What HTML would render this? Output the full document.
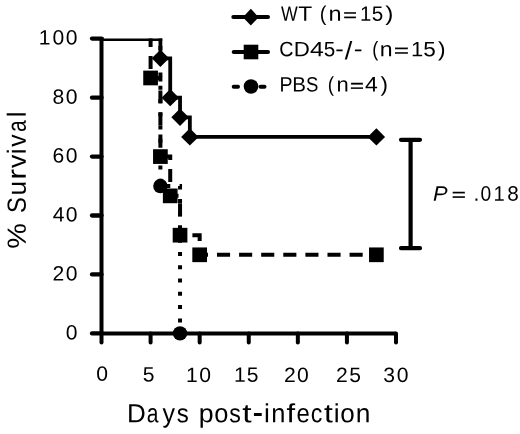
<!DOCTYPE html>
<html><head><meta charset="utf-8"><style>
html,body{margin:0;padding:0;background:#fff;width:520px;height:434px;overflow:hidden}
svg{display:block;will-change:transform}
text{font-family:"Liberation Sans",sans-serif;fill:#000}
</style></head><body>
<svg width="520" height="434" viewBox="0 0 520 434">
<path d="M101.5,37 V333.4 H396.01" fill="none" stroke="#000" stroke-width="4" stroke-linejoin="round"/>
<line x1="92" y1="333.4" x2="101.5" y2="333.4" stroke="#000" stroke-width="4.3" stroke-linecap="round"/>
<line x1="92" y1="274.46" x2="101.5" y2="274.46" stroke="#000" stroke-width="4.3" stroke-linecap="round"/>
<line x1="92" y1="215.52" x2="101.5" y2="215.52" stroke="#000" stroke-width="4.3" stroke-linecap="round"/>
<line x1="92" y1="156.58" x2="101.5" y2="156.58" stroke="#000" stroke-width="4.3" stroke-linecap="round"/>
<line x1="92" y1="97.64" x2="101.5" y2="97.64" stroke="#000" stroke-width="4.3" stroke-linecap="round"/>
<line x1="92" y1="38.6" x2="101.5" y2="38.6" stroke="#000" stroke-width="4.3" stroke-linecap="round"/>
<line x1="101.5" y1="333.4" x2="101.5" y2="342.6" stroke="#000" stroke-width="4" stroke-linecap="round"/>
<line x1="150.59" y1="333.4" x2="150.59" y2="342.6" stroke="#000" stroke-width="4" stroke-linecap="round"/>
<line x1="199.67" y1="333.4" x2="199.67" y2="342.6" stroke="#000" stroke-width="4" stroke-linecap="round"/>
<line x1="248.75" y1="333.4" x2="248.75" y2="342.6" stroke="#000" stroke-width="4" stroke-linecap="round"/>
<line x1="297.84" y1="333.4" x2="297.84" y2="342.6" stroke="#000" stroke-width="4" stroke-linecap="round"/>
<line x1="346.93" y1="333.4" x2="346.93" y2="342.6" stroke="#000" stroke-width="4" stroke-linecap="round"/>
<line x1="396.01" y1="333.4" x2="396.01" y2="342.6" stroke="#000" stroke-width="4" stroke-linecap="round"/>
<line x1="101.5" y1="39.75" x2="162.3" y2="39.75" stroke="#000" stroke-width="2.6"/>
<path d="M160.4,38.45 L160.4,58.36 L170.22,58.36 L170.22,97.64 L180.04,97.64 L180.04,117.3 L189.85,117.3 L189.85,136.92 L376.38,136.92" fill="none" stroke="#000" stroke-width="3.8"/>
<path d="M376.38,254.8 L199.67,254.8 L199.67,235.18 L180.04,235.18 L180.04,195.86 L170.22,195.86 L170.22,156.58 L160.4,156.58 L160.4,77.98 L150.59,77.98 L150.59,38.45" fill="none" stroke="#000" stroke-width="4" stroke-dasharray="13.1 9" stroke-dashoffset="8.4"/>
<path d="M180.04,333.4 L180.04,186.05 L160.4,186.05 L160.4,38.45" fill="none" stroke="#000" stroke-width="4" stroke-dasharray="4 9.28" stroke-dashoffset="2.28"/>
<rect x="143.24" y="70.63" width="14.7" height="14.7"/>
<rect x="153.05" y="149.23" width="14.7" height="14.7"/>
<rect x="162.87" y="188.51" width="14.7" height="14.7"/>
<rect x="172.69" y="227.83" width="14.7" height="14.7"/>
<rect x="192.32" y="247.45" width="14.7" height="14.7"/>
<rect x="369.03" y="247.45" width="14.7" height="14.7"/>
<circle cx="160.4" cy="186.05" r="7.2"/>
<circle cx="180.04" cy="333.4" r="7.2"/>
<path d="M160.4,49.66 L169.1,58.36 L160.4,67.06 L151.7,58.36 Z"/>
<path d="M170.22,88.94 L178.92,97.64 L170.22,106.34 L161.52,97.64 Z"/>
<path d="M180.04,108.6 L188.74,117.3 L180.04,126 L171.34,117.3 Z"/>
<path d="M189.85,128.22 L198.55,136.92 L189.85,145.62 L181.15,136.92 Z"/>
<path d="M376.38,128.22 L385.08,136.92 L376.38,145.62 L367.68,136.92 Z"/>
<path d="M401,139.8 H420 M410.6,139.8 V248.2 M401,248.2 H420" fill="none" stroke="#000" stroke-width="4.2" stroke-linecap="round"/>
<line x1="233.3" y1="16.9" x2="268" y2="16.9" stroke="#000" stroke-width="4" stroke-linecap="round"/>
<path d="M250.8,8.8 L258.7,17.2 L250.8,25.6 L242.9,17.2 Z"/>
<line x1="233.7" y1="51.9" x2="268" y2="51.9" stroke="#000" stroke-width="4" stroke-linecap="round"/>
<rect x="243.7" y="44.7" width="14.6" height="14.6"/>
<line x1="233.7" y1="86.8" x2="238" y2="86.8" stroke="#000" stroke-width="4" stroke-linecap="round"/>
<line x1="260.5" y1="86.8" x2="264.5" y2="86.8" stroke="#000" stroke-width="4" stroke-linecap="round"/>
<circle cx="251" cy="86.5" r="7.3"/>
<text transform="translate(45,44.58) rotate(0.05) scale(1.020,1.000)" x="-6.04" font-size="20.7">1</text>
<text transform="translate(58.45,44.58) rotate(0.05) scale(1.020,1.000)" x="-5.76" font-size="20.7">0</text>
<text transform="translate(71.6,44.58) rotate(0.05) scale(1.020,1.000)" x="-5.76" font-size="20.7">0</text>
<text transform="translate(58.45,103.67) rotate(0.05) scale(1.020,1.000)" x="-5.76" font-size="20.7">8</text>
<text transform="translate(71.6,103.67) rotate(0.05) scale(1.020,1.000)" x="-5.76" font-size="20.7">0</text>
<text transform="translate(58.45,162.61) rotate(0.05) scale(1.020,1.000)" x="-5.83" font-size="20.7">6</text>
<text transform="translate(71.6,162.61) rotate(0.05) scale(1.020,1.000)" x="-5.76" font-size="20.7">0</text>
<text transform="translate(58.45,221.55) rotate(0.05) scale(1.020,1.000)" x="-5.69" font-size="20.7">4</text>
<text transform="translate(71.6,221.55) rotate(0.05) scale(1.020,1.000)" x="-5.76" font-size="20.7">0</text>
<text transform="translate(58.45,280.49) rotate(0.05) scale(1.020,1.000)" x="-5.76" font-size="20.7">2</text>
<text transform="translate(71.6,280.49) rotate(0.05) scale(1.020,1.000)" x="-5.76" font-size="20.7">0</text>
<text transform="translate(71.6,339.43) rotate(0.05) scale(1.020,1.000)" x="-5.76" font-size="20.7">0</text>
<text transform="translate(102.1,380.83) rotate(0.05) scale(1.020,1.000)" x="-5.76" font-size="20.7">0</text>
<text transform="translate(148.5,381.52) rotate(0.05) scale(1.020,1.000)" x="-5.74" font-size="20.7">5</text>
<text transform="translate(192.2,381.98) rotate(0.05) scale(1.020,1.000)" x="-6.04" font-size="20.7">1</text>
<text transform="translate(205.1,381.98) rotate(0.05) scale(1.020,1.000)" x="-5.76" font-size="20.7">0</text>
<text transform="translate(240.1,381.87) rotate(0.05) scale(1.020,1.000)" x="-6.04" font-size="20.7">1</text>
<text transform="translate(252.5,381.87) rotate(0.05) scale(1.020,1.000)" x="-5.74" font-size="20.7">5</text>
<text transform="translate(289.8,382.08) rotate(0.05) scale(1.020,1.000)" x="-5.76" font-size="20.7">2</text>
<text transform="translate(302.75,382.08) rotate(0.05) scale(1.020,1.000)" x="-5.76" font-size="20.7">0</text>
<text transform="translate(341.8,381.98) rotate(0.05) scale(1.020,1.000)" x="-5.76" font-size="20.7">2</text>
<text transform="translate(355.05,381.98) rotate(0.05) scale(1.020,1.000)" x="-5.74" font-size="20.7">5</text>
<text transform="translate(389.05,382.03) rotate(0.05) scale(1.020,1.000)" x="-5.7" font-size="20.7">3</text>
<text transform="translate(402.5,382.03) rotate(0.05) scale(1.020,1.000)" x="-5.76" font-size="20.7">0</text>
<text transform="translate(289.35,20.75) rotate(0.05) scale(0.849,1.000)" x="-9.87" font-size="20.9">W</text>
<text transform="translate(305.1,20.75) rotate(0.05) scale(1.092,1.000)" x="-6.38" font-size="20.9">T</text>
<text transform="translate(323.7,20.75) rotate(0.05) scale(0.956,1.000)" x="-4.07" font-size="20.9">(</text>
<text transform="translate(334.95,20.75) rotate(0.05) scale(1.126,1.000)" x="-5.83" font-size="20.9">n</text>
<text transform="translate(350.05,20.92) rotate(0.05) scale(1.123,0.861)" x="-6.1" font-size="20.9" stroke="#000" stroke-width="0.4">=</text>
<text transform="translate(365.85,20.75) rotate(0.05) scale(0.977,1.000)" x="-6.1" font-size="20.9">1</text>
<text transform="translate(377.45,20.75) rotate(0.05) scale(0.989,1.000)" x="-5.79" font-size="20.9">5</text>
<text transform="translate(388.6,20.75) rotate(0.05) scale(1.173,1.000)" x="-2.89" font-size="20.9">)</text>
<text transform="translate(286.4,56.3) rotate(0.05) scale(0.944,1.000)" x="-7.68" font-size="20.9">C</text>
<text transform="translate(302.25,56.3) rotate(0.05) scale(1.066,1.000)" x="-7.9" font-size="20.9">D</text>
<text transform="translate(316.7,56.3) rotate(0.05) scale(1.187,1.000)" x="-5.75" font-size="20.9">4</text>
<text transform="translate(329.45,56.3) rotate(0.05) scale(0.989,1.000)" x="-5.79" font-size="20.9">5</text>
<text transform="translate(339.35,56.62) rotate(0.05) scale(1.215,1.102)" x="-3.48" font-size="20.9">-</text>
<text transform="translate(348.45,59.35) rotate(0.05) scale(1.300,1.202)" x="-2.9" font-size="20.9">/</text>
<text transform="translate(358.2,56.62) rotate(0.05) scale(1.274,1.102)" x="-3.48" font-size="20.9">-</text>
<text transform="translate(375.85,56.3) rotate(0.05) scale(0.866,1.000)" x="-4.07" font-size="20.9">(</text>
<text transform="translate(386.15,56.3) rotate(0.05) scale(1.104,1.000)" x="-5.83" font-size="20.9">n</text>
<text transform="translate(401.55,56.47) rotate(0.05) scale(1.221,0.861)" x="-6.1" font-size="20.9" stroke="#000" stroke-width="0.4">=</text>
<text transform="translate(417.4,56.3) rotate(0.05) scale(1.054,1.000)" x="-6.1" font-size="20.9">1</text>
<text transform="translate(429.5,56.3) rotate(0.05) scale(1.080,1.000)" x="-5.79" font-size="20.9">5</text>
<text transform="translate(441.05,56.3) rotate(0.05) scale(1.083,1.000)" x="-2.89" font-size="20.9">)</text>
<text transform="translate(286.25,91.6) rotate(0.05) scale(0.935,1.000)" x="-7.28" font-size="20.9">P</text>
<text transform="translate(299.5,91.6) rotate(0.05) scale(0.980,1.000)" x="-7.28" font-size="20.9">B</text>
<text transform="translate(312.3,91.6) rotate(0.05) scale(0.889,1.000)" x="-6.96" font-size="20.9">S</text>
<text transform="translate(331.35,91.6) rotate(0.05) scale(0.902,1.000)" x="-4.07" font-size="20.9">(</text>
<text transform="translate(342.57,91.6) rotate(0.05) scale(1.053,1.000)" x="-5.83" font-size="20.9">n</text>
<text transform="translate(357.05,91.77) rotate(0.05) scale(1.142,0.861)" x="-6.1" font-size="20.9" stroke="#000" stroke-width="0.4">=</text>
<text transform="translate(371.45,91.6) rotate(0.05) scale(1.101,1.000)" x="-5.75" font-size="20.9">4</text>
<text transform="translate(383.62,91.6) rotate(0.05) scale(1.074,1.000)" x="-2.89" font-size="20.9">)</text>
<text transform="translate(136.95,422.2) rotate(0.05) scale(0.989,1.000)" x="-9.95" font-size="26.3">D</text>
<text transform="translate(153.1,422.2) rotate(0.05) scale(0.800,1.000)" x="-7.87" font-size="26.3">a</text>
<text transform="translate(168.65,422.2) rotate(0.05) scale(0.951,1.000)" x="-6.58" font-size="26.3">y</text>
<text transform="translate(182.7,422.2) rotate(0.05) scale(0.916,1.000)" x="-6.47" font-size="26.3">s</text>
<text transform="translate(206.35,422.2) rotate(0.05) scale(1.015,1.000)" x="-7.61" font-size="26.3">p</text>
<text transform="translate(221.35,422.2) rotate(0.05) scale(0.966,1.000)" x="-7.31" font-size="26.3">o</text>
<text transform="translate(235,422.2) rotate(0.05) scale(0.881,1.000)" x="-6.47" font-size="26.3">s</text>
<text transform="translate(246.95,422.2) rotate(0.05) scale(1.280,1.000)" x="-3.76" font-size="26.3">t</text>
<text transform="translate(257.75,424.12) rotate(0.05) scale(1.215,1.363)" x="-4.38" font-size="26.3">-</text>
<text transform="translate(266.95,422.2) rotate(0.05) scale(1.000,1.000)" x="-2.92" font-size="26.3">i</text>
<text transform="translate(278.25,422.2) rotate(0.05) scale(0.967,1.000)" x="-7.33" font-size="26.3">n</text>
<text transform="translate(291.15,422.2) rotate(0.05) scale(1.176,1.000)" x="-3.86" font-size="26.3">f</text>
<text transform="translate(303.05,422.2) rotate(0.05) scale(0.908,1.000)" x="-7.29" font-size="26.3">e</text>
<text transform="translate(316.65,422.2) rotate(0.05) scale(0.882,1.000)" x="-6.79" font-size="26.3">c</text>
<text transform="translate(328.4,422.2) rotate(0.05) scale(1.206,1.000)" x="-3.76" font-size="26.3">t</text>
<text transform="translate(336.65,422.2) rotate(0.05) scale(1.000,1.000)" x="-2.92" font-size="26.3">i</text>
<text transform="translate(347.5,422.2) rotate(0.05) scale(0.990,1.000)" x="-7.31" font-size="26.3">o</text>
<text transform="translate(363.05,422.2) rotate(0.05) scale(1.002,1.000)" x="-7.33" font-size="26.3">n</text>
<text transform="translate(25.65,235.95) rotate(-89.95) scale(1.097,1)" x="-11.69" font-size="26.3">%</text>
<text transform="translate(25.65,205) rotate(-89.95) scale(0.905,1)" x="-8.76" font-size="26.3">S</text>
<text transform="translate(25.65,188.15) rotate(-89.95) scale(1.002,1)" x="-7.29" font-size="26.3">u</text>
<text transform="translate(25.65,173.65) rotate(-89.95) scale(1.217,1)" x="-5.03" font-size="26.3">r</text>
<text transform="translate(25.65,161.4) rotate(-89.95) scale(1.010,1)" x="-6.58" font-size="26.3">v</text>
<text transform="translate(25.65,151.25) rotate(-89.95) scale(1.000,1)" x="-2.92" font-size="26.3">i</text>
<text transform="translate(25.65,140.5) rotate(-89.95) scale(0.933,1)" x="-6.58" font-size="26.3">v</text>
<text transform="translate(25.65,125.7) rotate(-89.95) scale(0.800,1)" x="-7.87" font-size="26.3">a</text>
<text transform="translate(25.65,114.45) rotate(-89.95) scale(1.000,1)" x="-2.93" font-size="26.3">l</text>
<text transform="translate(440.65,200.65) rotate(0.05) scale(1.043,1.000)" x="-7.26" font-size="21" font-style="italic">P</text>
<text transform="translate(458.75,200.75) rotate(0.05) scale(1.147,0.850)" x="-6.13" font-size="21" stroke="#000" stroke-width="0.4">=</text>
<text transform="translate(476.5,200.65) rotate(0.05) scale(1.000,1.000)" x="-2.92" font-size="21">.</text>
<text transform="translate(485.75,200.65) rotate(0.05) scale(0.916,1.000)" x="-5.84" font-size="21">0</text>
<text transform="translate(499.5,200.65) rotate(0.05) scale(0.961,1.000)" x="-6.13" font-size="21">1</text>
<text transform="translate(513,200.65) rotate(0.05) scale(0.984,1.000)" x="-5.84" font-size="21">8</text>
</svg>
</body></html>
